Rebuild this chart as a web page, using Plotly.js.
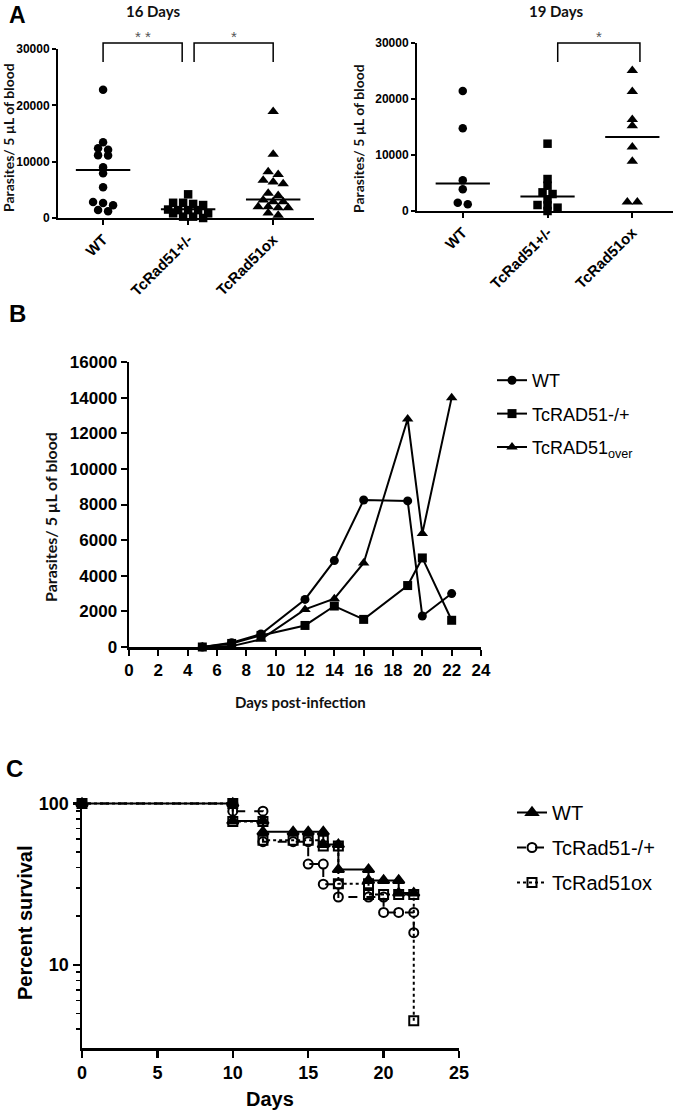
<!DOCTYPE html>
<html><head><meta charset="utf-8">
<script src="https://cdn.plot.ly/plotly-3.0.1.min.js"></script>
<style>html,body{margin:0;padding:0;background:#fff;}#chart{width:675px;height:1111px;}</style>
</head><body><div id="chart"></div>
<script>
// ---------- Panel A data (parasites / 5 µL blood) ----------
const groupsA = ['WT', 'TcRad51+/-', 'TcRad51ox'];
const day16_WT  = [22770, 13460, 12390, 12100, 11150, 11090, 9010, 7950, 5460, 2850, 2670, 2250, 1420, 1190];
const day16_het = [4200, 2700, 2700, 2500, 2300, 1500, 1400, 1400, 1400, 830, 830, 240, 240, 0];
const day16_ox  = [18900, 11300, 8200, 7700, 6700, 6400, 6100, 4400, 4000, 3200, 2900, 2900, 2000, 2000, 1800, 1800, 900, 500];
const day16_medians = [8500, 1550, 3300];
const day19_WT  = [21430, 14760, 5470, 3870, 1490, 1190];
const day19_het = [12020, 5710, 4520, 3330, 3030, 2080, 1070, 1010, 595, 0];
const day19_ox  = [25100, 21360, 16360, 15230, 11420, 8870, 1610, 1610];
const day19_medians = [4900, 2600, 13200];
const sig16 = [{x0: 0, x1: 0.93, text: '* *'}, {x0: 1.07, x1: 2, text: '*'}];
const sig19 = [{x0: 1.12, x1: 2.09, text: '*'}];

// ---------- Panel B data ----------
const daysB = [5, 7, 9, 12, 14, 16, 19, 20, 22];
const wtB   = [0, 240, 730, 2670, 4850, 8250, 8200, 1740, 3000];
const hetB  = [0, 200, 650, 1210, 2300, 1550, 3450, 5000, 1500];
const overB = [0, 50, 430, 2110, 2710, 4720, 12800, 6370, 14000];
const namesB = ['WT', 'TcRAD51-/+', 'TcRAD51<sub>over</sub>'];

// ---------- Panel C data (survival step vertices) ----------
const wtC_days  = [0, 10, 10, 12, 12, 14, 15, 16, 16, 17, 17, 19, 19, 20, 21, 21, 22];
const wtC_surv  = [100, 100, 77.8, 77.8, 66.7, 66.7, 66.7, 66.7, 55.6, 55.6, 38.9, 38.9, 33.3, 33.3, 33.3, 27.8, 27.8];
const hetC_days = [0, 10, 10, 12, 12, 14, 15, 15, 16, 16, 17, 17, 19, 20, 20, 21, 22, 22];
const hetC_surv = [100, 100, 89.5, 89.5, 57.9, 57.9, 57.9, 42.1, 42.1, 31.6, 31.6, 26.3, 26.3, 26.3, 21.1, 21.1, 21.1, 15.8];
const oxC_days  = [0, 10, 10, 12, 12, 14, 15, 16, 16, 17, 17, 19, 19, 20, 21, 22, 22];
const oxC_surv  = [100, 100, 77.3, 77.3, 59.1, 59.1, 59.1, 59.1, 54.5, 54.5, 31.8, 31.8, 27.3, 27.3, 27.3, 27.3, 4.5];
const namesC = ['WT', 'TcRad51-/+', 'TcRad51ox'];

// ---------- geometry ----------
const W = 675, H = 1111;
const fx = p => p / W;
const fy = p => 1 - p / H;
const boxA1 = {l: 58, r: 314, t: 49, b: 218};
const boxA2 = {l: 417, r: 673, t: 43, b: 211};
const boxB  = {l: 129, r: 481, t: 362, b: 647};
const boxC  = {l: 82, r: 459, t: 802, b: 1048};
const rangeA1 = [-0.53, 2.48], rangeA2 = [-0.54, 2.48], yRangeA = [0, 30000];

const BOLD = {family: 'Arial, "Liberation Sans", sans-serif', weight: 700, color: '#000'};
const CAL = {family: 'Lato, "Open Sans", sans-serif', weight: 700, color: '#111'};

// row-based scatter layout (GraphPad-like): points within a few px vertically share a centred row
function swarmOffsets(vals, box, yr, xr, d) {
  const pxV = (box.b - box.t) / (yr[1] - yr[0]);
  const pxC = (box.r - box.l) / (xr[1] - xr[0]);
  const order = vals.map((v, i) => i).sort((a, b) => vals[b] - vals[a]);
  const out = new Array(vals.length).fill(0);
  let row = [];
  const flush = () => { row.forEach((i, k) => { out[i] = (k - (row.length - 1) / 2) * d / pxC; }); row = []; };
  for (const i of order) {
    if (row.length && ((vals[row[0]] - vals[i]) * pxV >= d * 0.55 || row.length >= 5)) flush();
    row.push(i);
  }
  flush();
  return out;
}
const catX = (box, xr, c) => fx(box.l + (c - xr[0]) / (xr[1] - xr[0]) * (box.r - box.l));

const traces = [];
const shapes = [];
const annotations = [];
const symA = ['circle', 'square', 'triangle-up'];
const sizeA = [8.5, 8.5, 10];

function buildA(series, medians, sig, box, xr, xa, ya) {
  series.forEach((vals, g) => {
    const offs = swarmOffsets(vals, box, yRangeA, xr, 10);
    traces.push({type: 'scatter', mode: 'markers', x: vals.map((v, i) => g + offs[i]), y: vals,
      xaxis: xa, yaxis: ya, cliponaxis: false, showlegend: false,
      marker: {symbol: symA[g], size: sizeA[g], color: '#000', line: {width: 0}}});
    traces.push({type: 'scatter', mode: 'lines', x: [g - 0.32, g + 0.32], y: [medians[g], medians[g]],
      xaxis: xa, yaxis: ya, showlegend: false, hoverinfo: 'skip', line: {color: '#000', width: 2}});
  });
  sig.forEach(s => {
    const x0 = catX(box, xr, s.x0), x1 = catX(box, xr, s.x1);
    const yt = fy(43), yl = fy(62);
    shapes.push({type: 'path', xref: 'paper', yref: 'paper',
      path: `M${x0},${yl} L${x0},${yt} L${x1},${yt} L${x1},${yl}`, line: {color: '#000', width: 1.5}});
    annotations.push({xref: 'paper', yref: 'paper', x: (x0 + x1) / 2, y: fy(36), text: s.text, showarrow: false,
      xanchor: 'center', yanchor: 'middle', font: {family: 'Arial', size: 15, color: '#555'}});
  });
}
buildA([day16_WT, day16_het, day16_ox], day16_medians, sig16, boxA1, rangeA1, 'x', 'y');
buildA([day19_WT, day19_het, day19_ox], day19_medians, sig19, boxA2, rangeA2, 'x2', 'y2');

// Panel B traces
[wtB, hetB, overB].forEach((ys, k) => {
  traces.push({type: 'scatter', mode: 'lines+markers', x: daysB, y: ys, name: namesB[k],
    xaxis: 'x3', yaxis: 'y3', cliponaxis: false, legend: 'legend', legendgroup: 'b' + k,
    line: {color: '#000', width: 2}, marker: {symbol: symA[k], size: k === 2 ? 10 : 9, color: '#000'}});
});

// Panel C traces
const cSets = [[wtC_days, wtC_surv, 'triangle-up', 'solid'], [hetC_days, hetC_surv, 'circle-open', 'dash'], [oxC_days, oxC_surv, 'square-open', 'dot']];
cSets.forEach((s, k) => {
  traces.push({type: 'scatter', mode: 'lines+markers', x: s[0], y: s[1], name: namesC[k],
    xaxis: 'x4', yaxis: 'y4', cliponaxis: false, legend: 'legend2', legendgroup: 'c' + k,
    line: {color: '#000', width: 2, shape: 'hv', dash: s[3]},
    marker: {symbol: s[2], size: k === 0 ? 10 : 9, color: '#000', line: {color: '#000', width: 2}}});
});

// text annotations
function ann(text, px, py, font, extra) {
  annotations.push(Object.assign({xref: 'paper', yref: 'paper', x: fx(px), y: fy(py), text, showarrow: false,
    xanchor: 'center', yanchor: 'middle', font}, extra || {}));
}
ann('A', 17, 0, Object.assign({}, BOLD, {size: 23}), {yanchor: 'top'});
ann('B', 17, 313, Object.assign({}, BOLD, {size: 24}));
ann('C', 14, 768, Object.assign({}, BOLD, {size: 24}));
ann('16 Days', 153, 0, Object.assign({}, CAL, {size: 15}), {yanchor: 'top'});
ann('19 Days', 556, 0, Object.assign({}, CAL, {size: 15}), {yanchor: 'top'});
ann('Parasites/ 5 µL of blood', 9, 138, Object.assign({}, CAL, {size: 14}), {textangle: -90});
ann('Parasites/ 5 µL of blood', 358, 139, Object.assign({}, CAL, {size: 14}), {textangle: -90});
ann('Parasites/ 5 µL of blood', 50, 517, Object.assign({}, CAL, {size: 16}), {textangle: -90});
ann('Days post-infection', 300, 702, Object.assign({}, CAL, {size: 15}));
ann('Percent survival', 25, 923, Object.assign({}, BOLD, {size: 20}), {textangle: -90});
ann('Days', 270, 1099, Object.assign({}, BOLD, {size: 20}));

const ax = {showgrid: false, zeroline: false, showline: true, linecolor: '#000', ticks: 'outside', tickcolor: '#000', fixedrange: true};
const dom = b => ({x: [fx(b.l), fx(b.r)], y: [fy(b.b), fy(b.t)]});
const dA1 = dom(boxA1), dA2 = dom(boxA2), dB = dom(boxB), dC = dom(boxC);
const xA = (d, r, anchor) => Object.assign({}, ax, {domain: d, range: r, anchor, tickvals: [0, 1, 2], ticktext: groupsA,
  tickangle: -45, linewidth: 2, ticklen: 5, tickwidth: 2, tickfont: Object.assign({}, BOLD, {size: 15})});
const yA = (d, anchor) => Object.assign({}, ax, {domain: d, range: yRangeA, anchor, tickvals: [0, 10000, 20000, 30000],
  tickformat: 'd', linewidth: 2, ticklen: 4, tickwidth: 2, tickfont: Object.assign({}, BOLD, {size: 12})});

const layout = {
  width: W, height: H, margin: {l: 0, r: 0, t: 0, b: 0}, paper_bgcolor: '#fff', plot_bgcolor: 'rgba(0,0,0,0)',
  showlegend: true, hovermode: false,
  xaxis: xA(dA1.x, rangeA1, 'y'), yaxis: yA(dA1.y, 'x'),
  xaxis2: xA(dA2.x, rangeA2, 'y2'), yaxis2: yA(dA2.y, 'x2'),
  xaxis3: Object.assign({}, ax, {domain: dB.x, range: [0, 24], anchor: 'y3', tickmode: 'linear', tick0: 0, dtick: 2,
    linewidth: 2.5, ticklen: 6, tickwidth: 2, tickfont: Object.assign({}, BOLD, {size: 17})}),
  yaxis3: Object.assign({}, ax, {domain: dB.y, range: [0, 16000], anchor: 'x3', tickmode: 'linear', tick0: 0, dtick: 2000,
    tickformat: 'd', linewidth: 2.5, ticklen: 6, tickwidth: 2, tickfont: Object.assign({}, BOLD, {size: 17})}),
  xaxis4: Object.assign({}, ax, {domain: dC.x, range: [0, 25], anchor: 'y4', tickmode: 'linear', tick0: 0, dtick: 5,
    linewidth: 2.5, ticklen: 7, tickwidth: 2.5, tickfont: Object.assign({}, BOLD, {size: 18})}),
  yaxis4: Object.assign({}, ax, {domain: dC.y, type: 'log', range: [Math.log10(3.05), Math.log10(102)], anchor: 'x4',
    tickvals: [10, 100], ticktext: ['10', '100'], linewidth: 2.5, ticklen: 7, tickwidth: 2.5,
    tickfont: Object.assign({}, BOLD, {size: 18}),
    minor: {tickvals: [4, 5, 6, 7, 8, 9, 20, 30, 40, 50, 60, 70, 80, 90], ticks: 'outside', ticklen: 4, tickwidth: 1.5, tickcolor: '#000'}}),
  legend: {x: fx(492), y: fy(362), xanchor: 'left', yanchor: 'top', bgcolor: 'rgba(0,0,0,0)', traceorder: 'grouped',
    tracegroupgap: 7, font: {family: 'Arial, "Liberation Sans", sans-serif', size: 18, color: '#000'}},
  legend2: {x: fx(512), y: fy(793), xanchor: 'left', yanchor: 'top', bgcolor: 'rgba(0,0,0,0)', traceorder: 'grouped',
    tracegroupgap: 6, font: {family: 'Arial, "Liberation Sans", sans-serif', size: 20, color: '#000'}},
  shapes, annotations
};
Plotly.newPlot('chart', traces, layout, {displayModeBar: false, staticPlot: true});
</script></body></html>
